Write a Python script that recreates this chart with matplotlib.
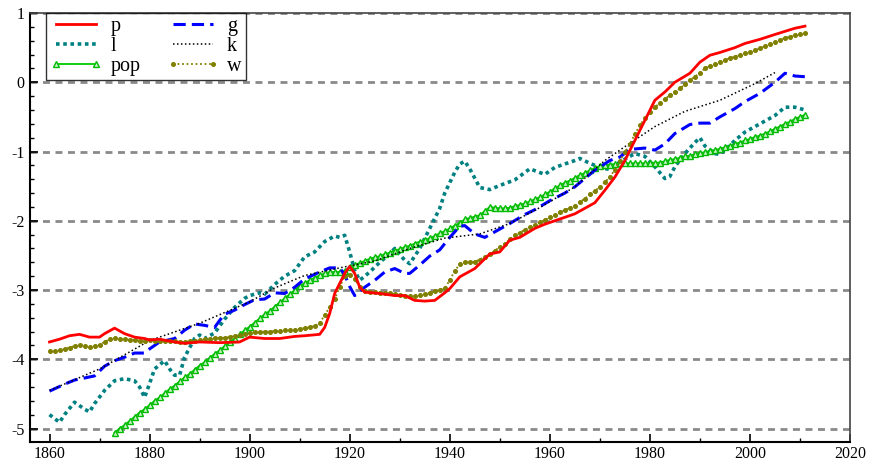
import numpy as np
import matplotlib
matplotlib.use("Agg")
import matplotlib.pyplot as plt
from matplotlib.ticker import MultipleLocator

plt.rcParams["font.family"] = ["Liberation Serif", "DejaVu Serif"]
plt.rcParams["axes.unicode_minus"] = False

# ---- series: p (solid red) ----
p_years = [1860, 1862, 1864, 1866, 1868, 1870, 1871, 1873, 1875, 1877, 1879, 1880,
           1882, 1885, 1887, 1890, 1894, 1898, 1900, 1903, 1906, 1909, 1911, 1914,
           1915, 1916, 1917, 1919, 1920, 1921, 1922, 1923, 1926, 1929, 1931, 1933,
           1935, 1937, 1939, 1940, 1942, 1945, 1948, 1950, 1952, 1954, 1957, 1959,
           1961, 1965, 1969, 1971, 1973, 1975, 1977, 1979, 1981, 1983, 1985, 1988,
           1990, 1992, 1994, 1997, 1999, 2002, 2005, 2009, 2011]
p_vals = [-3.75, -3.71, -3.66, -3.64, -3.68, -3.68, -3.63, -3.55, -3.63, -3.68, -3.70, -3.72,
          -3.71, -3.75, -3.77, -3.75, -3.76, -3.75, -3.68, -3.70, -3.70, -3.67, -3.66, -3.64,
          -3.54, -3.34, -3.05, -2.76, -2.66, -2.76, -2.96, -3.03, -3.05, -3.08, -3.08, -3.15,
          -3.16, -3.15, -3.04, -2.98, -2.81, -2.69, -2.48, -2.45, -2.28, -2.24, -2.11, -2.05,
          -2.00, -1.90, -1.74, -1.56, -1.37, -1.13, -0.84, -0.55, -0.26, -0.14, 0.00, 0.13,
          0.29, 0.39, 0.43, 0.50, 0.56, 0.62, 0.69, 0.78, 0.81]

# ---- series: g (blue dashed) ----
g_years = [1860, 1863, 1865, 1867, 1869, 1871, 1873, 1875, 1877, 1879, 1880, 1882,
           1885, 1887, 1889, 1891, 1893, 1894, 1895, 1897, 1899, 1901, 1903, 1905,
           1907, 1909, 1911, 1914, 1916, 1918, 1919, 1920, 1921, 1923, 1925, 1927,
           1929, 1931, 1932, 1934, 1936, 1938, 1940, 1942, 1943, 1945, 1947, 1949,
           1952, 1955, 1957, 1960, 1963, 1965, 1967, 1969, 1972, 1974, 1976, 1979,
           1981, 1983, 1985, 1988, 1990, 1992, 1994, 1997, 1999, 2002, 2005, 2007,
           2009, 2011]
g_vals = [-4.46, -4.36, -4.30, -4.27, -4.24, -4.10, -4.02, -3.97, -3.91, -3.91, -3.85, -3.75,
          -3.70, -3.58, -3.49, -3.51, -3.54, -3.44, -3.35, -3.29, -3.21, -3.14, -3.13, -3.04,
          -3.05, -2.96, -2.84, -2.74, -2.68, -2.68, -2.78, -2.95, -3.08, -2.96, -2.86, -2.74,
          -2.69, -2.76, -2.76, -2.64, -2.51, -2.42, -2.24, -2.08, -2.07, -2.19, -2.24, -2.16,
          -2.04, -1.91, -1.84, -1.71, -1.60, -1.51, -1.39, -1.27, -1.13, -1.08, -0.97, -0.95,
          -0.98, -0.89, -0.74, -0.61, -0.59, -0.59, -0.50, -0.38, -0.28, -0.16, 0.00, 0.13,
          0.09, 0.08]

# ---- series: l (teal dotted) ----
l_years = [1860, 1862, 1863, 1865, 1867, 1868, 1869, 1871, 1873, 1875, 1877, 1878,
           1879, 1880, 1881, 1883, 1884, 1885, 1886, 1887, 1889, 1890, 1891, 1892,
           1893, 1894, 1895, 1897, 1899, 1900, 1902, 1903, 1905, 1907, 1909, 1911,
           1913, 1915, 1917, 1918, 1919, 1920, 1921, 1922, 1924, 1926, 1928, 1929,
           1931, 1932, 1934, 1936, 1938, 1939, 1941, 1942, 1943, 1944, 1946, 1948,
           1950, 1953, 1956, 1959, 1961, 1965, 1966, 1968, 1970, 1972, 1974, 1977,
           1979, 1981, 1983, 1984, 1985, 1987, 1989, 1990, 1991, 1993, 1994, 1995,
           1997, 1999, 2002, 2005, 2007, 2009, 2011]
l_vals = [-4.80, -4.91, -4.80, -4.62, -4.72, -4.76, -4.64, -4.45, -4.31, -4.28, -4.31, -4.40,
          -4.55, -4.35, -4.14, -4.02, -4.14, -4.23, -4.23, -3.97, -3.70, -3.65, -3.70, -3.66,
          -3.62, -3.52, -3.42, -3.25, -3.12, -3.08, -3.04, -3.06, -2.92, -2.80, -2.72, -2.52,
          -2.45, -2.30, -2.22, -2.24, -2.21, -2.45, -2.72, -2.86, -2.74, -2.60, -2.48, -2.40,
          -2.57, -2.62, -2.40, -2.11, -1.82, -1.60, -1.30, -1.18, -1.14, -1.25, -1.52, -1.55,
          -1.49, -1.41, -1.25, -1.33, -1.23, -1.13, -1.10, -1.17, -1.23, -1.26, -1.15, -1.03,
          -1.07, -1.22, -1.39, -1.36, -1.22, -1.03, -0.87, -0.80, -0.92, -1.03, -1.04, -0.98,
          -0.84, -0.72, -0.60, -0.48, -0.36, -0.36, -0.40]

# ---- series: k (black fine dotted) ----
k_years = [1860, 1870, 1880, 1890, 1900, 1905, 1911, 1918, 1925, 1932, 1939, 1946,
           1952, 1958, 1965, 1971, 1975, 1981, 1987, 1994, 2001, 2005]
k_vals = [-4.45, -4.14, -3.73, -3.48, -3.17, -2.97, -2.79, -2.68, -2.58, -2.40, -2.25, -2.19,
          -2.04, -1.81, -1.51, -1.13, -0.93, -0.64, -0.42, -0.26, -0.02, 0.14]

# ---- series: pop (green, triangle every year, 1873-2011) ----
pop_start = 1873
pop_vals = [
    -5.06, -5.00, -4.95, -4.89, -4.83, -4.77, -4.72,
    -4.66, -4.60, -4.55, -4.49, -4.43, -4.38, -4.32, -4.26, -4.21, -4.15,
    -4.09, -4.04, -3.98, -3.92, -3.87, -3.81, -3.75, -3.70, -3.64, -3.58,
    -3.53, -3.47, -3.41, -3.35, -3.30, -3.24, -3.18, -3.12, -3.06, -3.00,
    -2.94, -2.90, -2.86, -2.82, -2.79, -2.76, -2.74, -2.74, -2.74, -2.72,
    -2.67, -2.64, -2.61, -2.58, -2.55, -2.53, -2.51, -2.48, -2.46, -2.43,
    -2.41, -2.38, -2.36, -2.33, -2.30, -2.28, -2.25, -2.22, -2.18, -2.15,
    -2.11, -2.07, -2.03, -1.98, -1.96, -1.94, -1.92, -1.86, -1.80, -1.81,
    -1.82, -1.82, -1.81, -1.79, -1.77, -1.75, -1.72, -1.69, -1.66, -1.62,
    -1.58, -1.53, -1.49, -1.45, -1.42, -1.38, -1.34, -1.31, -1.27, -1.24,
    -1.21, -1.20, -1.19, -1.18, -1.17, -1.17, -1.17, -1.17, -1.17, -1.17,
    -1.17, -1.16, -1.16, -1.14, -1.12, -1.11, -1.09, -1.07, -1.06, -1.04,
    -1.02, -1.01, -0.99, -0.98, -0.96, -0.94, -0.92, -0.89, -0.87, -0.84,
    -0.82, -0.79, -0.77, -0.74, -0.71, -0.67, -0.64, -0.60, -0.57, -0.53,
    -0.50, -0.47,
]

# ---- series: w (olive dotted with dots, every year, 1860-2011) ----
w_start = 1860
w_vals = [
    -3.88, -3.88, -3.87, -3.85, -3.83, -3.81, -3.80, -3.81, -3.82, -3.81,
    -3.79, -3.75, -3.71, -3.69, -3.70, -3.71, -3.72, -3.72, -3.73, -3.73,
    -3.72, -3.73, -3.73, -3.74, -3.74, -3.74, -3.75, -3.75, -3.74, -3.73,
    -3.72, -3.71, -3.70, -3.69, -3.69, -3.69, -3.68, -3.66, -3.65, -3.63,
    -3.62, -3.61, -3.61, -3.60, -3.60, -3.59, -3.59, -3.58, -3.58, -3.57,
    -3.56, -3.55, -3.54, -3.52, -3.48, -3.36, -3.25, -3.13, -2.96, -2.80,
    -2.79, -2.84, -2.96, -3.02, -3.03, -3.03, -3.04, -3.04, -3.05, -3.06,
    -3.07, -3.08, -3.08, -3.08, -3.07, -3.06, -3.04, -3.02, -3.00, -2.97,
    -2.86, -2.72, -2.63, -2.60, -2.60, -2.59, -2.56, -2.52, -2.48, -2.43,
    -2.38, -2.33, -2.27, -2.21, -2.17, -2.13, -2.09, -2.06, -2.02, -1.99,
    -1.95, -1.92, -1.88, -1.85, -1.81, -1.78, -1.73, -1.68, -1.62, -1.57,
    -1.51, -1.44, -1.37, -1.26, -1.13, -1.01, -0.89, -0.75, -0.62, -0.52,
    -0.43, -0.36, -0.30, -0.24, -0.19, -0.14, -0.09, -0.03, 0.03, 0.08,
    0.14, 0.20, 0.23, 0.26, 0.29, 0.32, 0.35, 0.37, 0.40, 0.42,
    0.44, 0.46, 0.49, 0.52, 0.55, 0.58, 0.61, 0.64, 0.66, 0.68,
    0.70, 0.71,
]

pop_years = np.arange(pop_start, pop_start + len(pop_vals))
w_years = np.arange(w_start, w_start + len(w_vals))

fig = plt.figure(figsize=(8.7, 4.61), dpi=100)
ax = fig.add_axes([30 / 870, 19.3 / 461, 820 / 870, 428.7 / 461])

# horizontal dashed reference lines
for yv in range(-5, 2):
    ax.axhline(yv, color="#8a8a8a", lw=2.0, ls=(0, (2.5, 2.0)), zorder=1)

ax.plot(p_years, p_vals, color="#ff0000", lw=2.0, label="p", zorder=5)
ax.plot(l_years, l_vals, color="#008080", lw=2.6, ls=(0, (1.0, 1.0)), label="l", zorder=3)
ax.plot(pop_years, pop_vals, color="#00cc00", lw=1.3, marker="^", ms=5,
        mfc="#c8f0c8", mec="#00bb00", mew=1.0, label="pop", zorder=4)
ax.plot(g_years, g_vals, color="#0000ff", lw=2.2, ls=(0, (4.0, 2.0)), label="g", zorder=4)
ax.plot(k_years, k_vals, color="#000000", lw=1.1, ls=(0, (1.0, 1.6)), label="k", zorder=4)
ax.plot(w_years, w_vals, color="#808000", lw=1.3, ls=(0, (1.0, 1.5)), marker="o", ms=2.6,
        mfc="#808000", mec="#808000", label="w", zorder=4)

ax.set_xlim(1856.1, 2020)
ax.set_ylim(-5.19, 1.0)

ax.xaxis.set_major_locator(MultipleLocator(20))
ax.xaxis.set_minor_locator(MultipleLocator(10))
ax.yaxis.set_major_locator(MultipleLocator(1))
ax.yaxis.set_minor_locator(MultipleLocator(0.2))

ax.tick_params(axis="both", which="major", direction="in", length=6, width=1.2,
               labelsize=11.5, colors="black", top=False, right=False)
ax.tick_params(axis="both", which="minor", direction="in", length=3, width=1.0,
               top=False, right=False)
ax.tick_params(axis="x", which="major", pad=3)
ax.tick_params(axis="y", which="major", pad=4)

for side in ("left", "bottom"):
    ax.spines[side].set_linewidth(1.5)
    ax.spines[side].set_color("black")
for side in ("right", "top"):
    ax.spines[side].set_linewidth(1.2)
    ax.spines[side].set_color("#444444")

leg = ax.legend(ncol=2, loc="upper left", bbox_to_anchor=(16 / 820, 1.0),
                borderaxespad=0, fancybox=False, frameon=True, fontsize=14.5,
                numpoints=2, handlelength=2.6, handletextpad=0.4, columnspacing=1.3,
                labelspacing=0.05, borderpad=0.2)
leg.get_frame().set_edgecolor("black")
leg.get_frame().set_linewidth(1.0)
leg.set_zorder(10)

fig.savefig("out.png", dpi=100)
